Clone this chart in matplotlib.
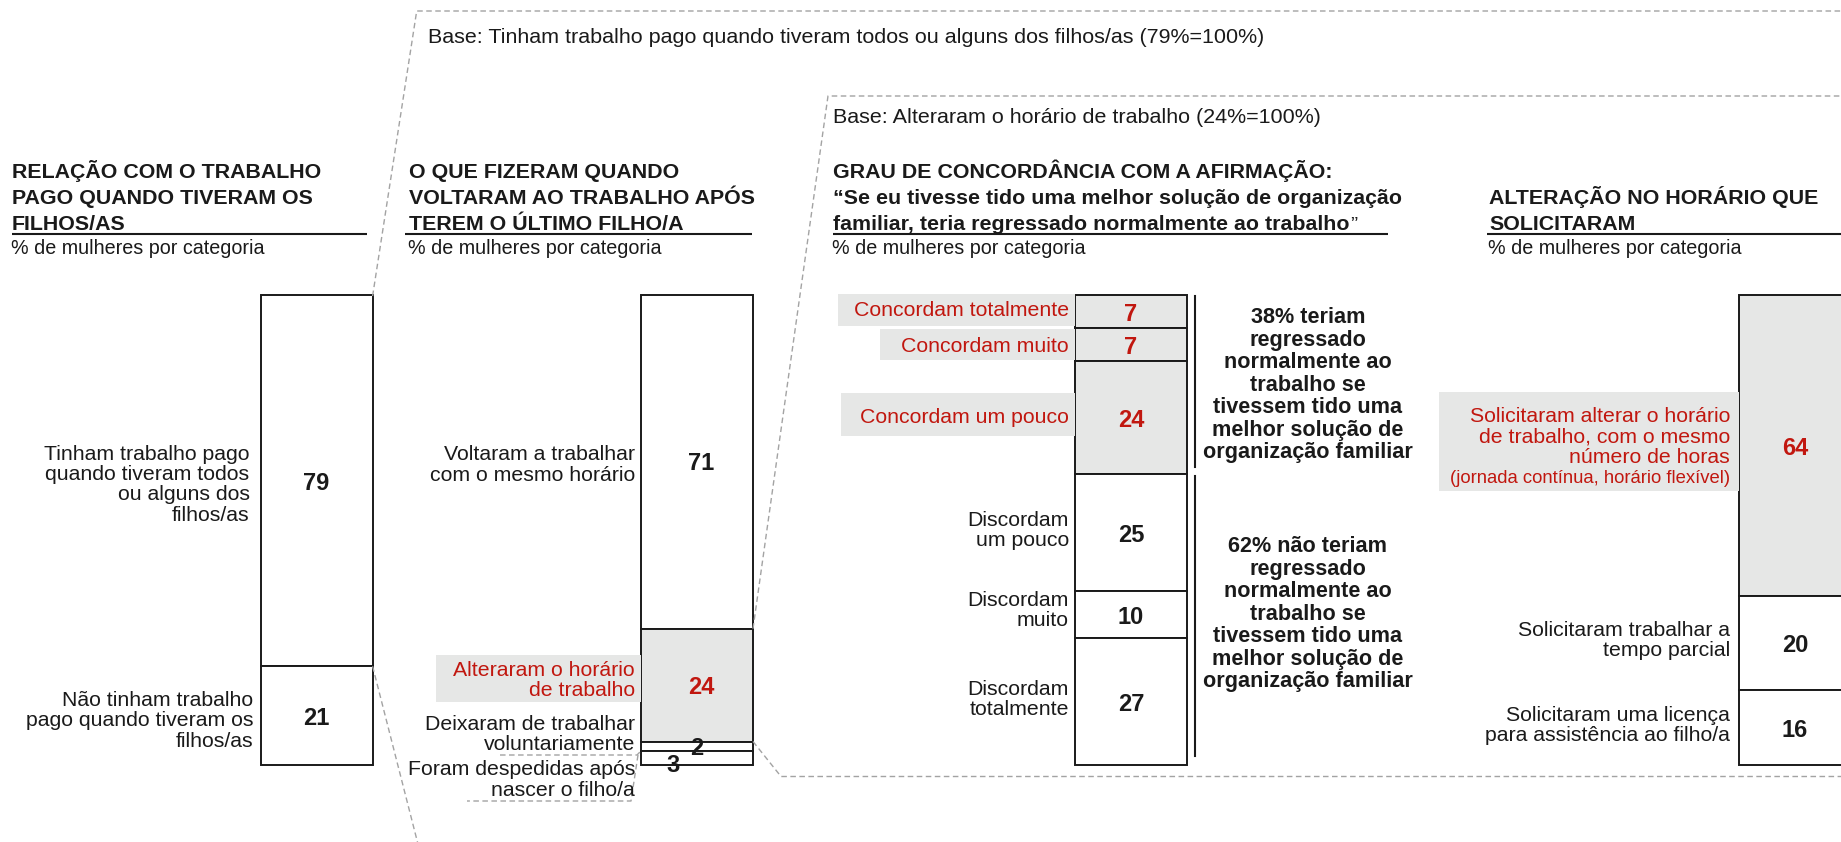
import numpy as np
import matplotlib
matplotlib.use('Agg')
import matplotlib.pyplot as plt
from matplotlib.patches import Rectangle

plt.rcParams['font.family'] = ['Liberation Sans', 'DejaVu Sans']

W, H = 1841, 842
INK = '#1a1a1a'
RED = '#c1170f'
GREY = '#e6e7e6'
DASH = '#a3a3a3'

# ---- data ----
work_values = [79, 21]
work_labels = [['Tinham trabalho pago', 'quando tiveram todos', 'ou alguns dos', 'filhos/as'],
               ['Não tinham trabalho', 'pago quando tiveram os', 'filhos/as']]
work_hi = [False, False]

return_values = [71, 24, 2, 3]
return_labels = [['Voltaram a trabalhar', 'com o mesmo horário'],
                 ['Alteraram o horário', 'de trabalho'],
                 ['Deixaram de trabalhar', 'voluntariamente'],
                 ['Foram despedidas após', 'nascer o filho/a']]
return_hi = [False, True, False, False]

agree_values = [7, 7, 24, 25, 10, 27]
agree_labels = [['Concordam totalmente'], ['Concordam muito'], ['Concordam um pouco'],
                ['Discordam', 'um pouco'], ['Discordam', 'muito'], ['Discordam', 'totalmente']]
agree_hi = [True, True, True, False, False, False]
agree_yes = ['38% teriam', 'regressado', 'normalmente ao', 'trabalho se',
             'tivessem tido uma', 'melhor solução de', 'organização familiar']
agree_no = ['62% não teriam', 'regressado', 'normalmente ao', 'trabalho se',
            'tivessem tido uma', 'melhor solução de', 'organização familiar']

change_values = [64, 20, 16]
change_labels = [['Solicitaram alterar o horário', 'de trabalho, com o mesmo', 'número de horas',
                  '(jornada contínua, horário flexível)'],
                 ['Solicitaram trabalhar a', 'tempo parcial'],
                 ['Solicitaram uma licença', 'para assistência ao filho/a']]
change_hi = [True, False, False]

titles = [['RELAÇÃO COM O TRABALHO', 'PAGO QUANDO TIVERAM OS', 'FILHOS/AS'],
          ['O QUE FIZERAM QUANDO', 'VOLTARAM AO TRABALHO APÓS', 'TEREM O ÚLTIMO FILHO/A'],
          ['GRAU DE CONCORDÂNCIA COM A AFIRMAÇÃO:',
           '“Se eu tivesse tido uma melhor solução de organização',
           'familiar, teria regressado normalmente ao trabalho'],
          ['ALTERAÇÃO NO HORÁRIO QUE', 'SOLICITARAM']]
subtitle = '% de mulheres por categoria'
base1 = 'Base: Tinham trabalho pago quando tiveram todos ou alguns dos filhos/as (79%=100%)'
base2 = 'Base: Alteraram o horário de trabalho (24%=100%)'

# ---- layout ----
BAR_TOP, BAR_BOT, BAR_W = 295, 765, 112
PX = (BAR_BOT - BAR_TOP) / 100.0
LAB = 15.3
NUM = 17
TIT = 15.4

fig = plt.figure(figsize=(W / 100, H / 100), dpi=100)
ax = fig.add_axes([0, 0, 1, 1], zorder=5)
ax.set_xlim(0, W)
ax.set_ylim(H, 0)
ax.axis('off')


def text_block(x, yc, lines, size=LAB, pitch=20.6, ha='right', color=INK, weight='normal', sizes=None):
    n = len(lines)
    for i, s in enumerate(lines):
        fs = sizes[i] if sizes else size
        base = yc + (i - (n - 1) / 2) * pitch + 0.36 * fs * 100 / 72
        ax.text(x, base, s, ha=ha, va='baseline', fontsize=fs, color=color, fontweight=weight)


def draw_column(left, values, labels, hi, label_dy, num_off, gap, sizes=None):
    bax = fig.add_axes([left / W, 1 - BAR_BOT / H, BAR_W / W, (BAR_BOT - BAR_TOP) / H], zorder=1)
    bax.set_xlim(0, 1)
    bax.set_ylim(100, 0)
    bax.axis('off')
    bottoms = np.concatenate([[0], np.cumsum(values)[:-1]])
    colors = [GREY if h else 'white' for h in hi]
    bax.bar(0.5, values, bottom=bottoms, width=1, color=colors, edgecolor=INK,
            linewidth=1.4, clip_on=False)
    cx = left + BAR_W / 2
    for i, (v, b, lab, h) in enumerate(zip(values, bottoms, labels, hi)):
        yc = BAR_TOP + (b + v / 2) * PX
        col = RED if h else INK
        text_block(left - gap[i], yc + label_dy[i], lab, color=col,
                   sizes=sizes[i] if sizes else None, pitch=20.4)
        nx, ny = num_off[i]
        ax.text(cx + nx, yc + ny + 0.36 * NUM * 100 / 72, str(v), ha='center', va='baseline',
                fontsize=NUM, fontweight='bold', color=col)
    return bottoms


# grey highlight backgrounds behind red labels
for x0, y0, x1, y1 in [(435.6, 655, 641, 702), (838, 293.5, 1075, 326), (880.5, 328.7, 1075, 360.4),
                       (840.6, 393, 1075, 435.6), (1439, 392, 1739, 490.7)]:
    ax.add_patch(Rectangle((x0, y0), x1 - x0, y1 - y0, facecolor=GREY, edgecolor='none', zorder=0))

L1, L2, L3, L4 = 260.6, 641, 1075, 1739
b1 = draw_column(L1, work_values, work_labels, work_hi, [2, 3], [(0, 1), (0, 1)], [11, 7])
b2 = draw_column(L2, return_values, return_labels, return_hi, [1, -7, -14, 20],
                 [(4, 0), (4, 0), (0, 0), (-24, 6)], [6, 6, 6, 6])
b3 = draw_column(L3, agree_values, agree_labels, agree_hi, [-3, 0, -2, -4, -6, -4],
                 [(0, 1)] * 6, [6] * 6)
b4 = draw_column(L4, change_values, change_labels, change_hi, [0, -4.5, -4],
                 [(0, 1)] * 3, [9, 9, 9], sizes=[[LAB, LAB, LAB, 13.3], None, None])

# titles, underlines and subtitles
title_x = [11.7, 409.3, 833.5, 1489]
under = [(11.7, 366.7), (405, 751.7), (833.5, 1387.7), (1487.5, W)]
last = None
for x, lines, (u0, u1) in zip(title_x, titles, under):
    n = len(lines)
    for i, s in enumerate(lines):
        t = ax.text(x, 230.5 - (n - 1 - i) * 26.5, s, ha='left', va='baseline', fontsize=TIT,
                    fontweight='bold', color=INK)
        if s.startswith('familiar'):
            last = t
    ax.plot([u0, u1], [234, 234], color=INK, lw=1.5, solid_capstyle='butt')
    ax.text(x - 1, 254, subtitle, ha='left', va='baseline', fontsize=14.2, color=INK)
# closing quote of the statement is set in regular weight
ax.annotate('”', xy=(1, 0), xycoords=last, ha='left', va='bottom', fontsize=TIT, color=INK)

ax.text(428, 43, base1, ha='left', va='baseline', fontsize=15.45, color=INK)
ax.text(833, 123, base2, ha='left', va='baseline', fontsize=15.45, color=INK)

# brackets with the summary texts
y38 = BAR_TOP + sum(agree_values[:3]) * PX
bx = L3 + BAR_W + 8
ax.plot([bx, bx], [BAR_TOP + 1, y38 - 7], color=INK, lw=1.5)
ax.plot([bx, bx], [y38 + 2, BAR_BOT - 9], color=INK, lw=1.5)
text_block(1308, 383, agree_yes, size=15.6, pitch=22.5, ha='center', weight='bold')
text_block(1308, 612, agree_no, size=15.6, pitch=22.5, ha='center', weight='bold')

# dashed "zoom" connectors
dkw = dict(color=DASH, lw=1.0, dashes=(4, 2.5))
r1 = L1 + BAR_W
r2 = L2 + BAR_W
y79 = BAR_TOP + b1[1] * PX
y71 = BAR_TOP + b2[1] * PX
y95 = BAR_TOP + b2[2] * PX
ax.plot([r1, 416.7, W + 5], [BAR_TOP + 1, 11, 11], **dkw)
ax.plot([r1, 420], [y79, H + 10], **dkw)
ax.plot([r2, 828, W + 5], [y71, 96, 96], **dkw)
ax.plot([r2, 781, W + 5], [y95, 776.5, 776.5], **dkw)
y97 = BAR_TOP + b2[3] * PX
ax.plot([500, 637, L2], [755, 755, y97], **dkw)
ax.plot([638, 631, 467], [755, 801, 801], **dkw)

fig.savefig('out.png', dpi=100, facecolor='white')
